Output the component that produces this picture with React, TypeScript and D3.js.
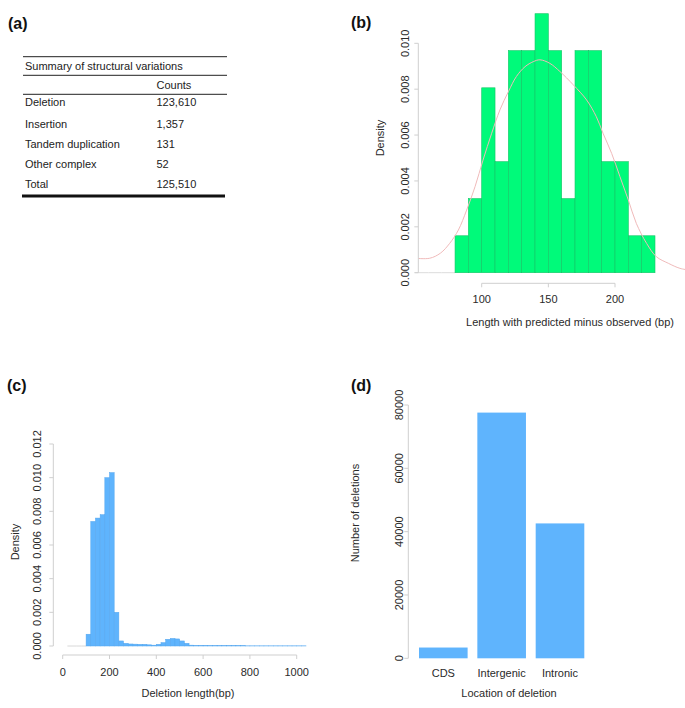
import React from "react";
import * as d3 from "d3";

// ---------- Data ----------
const tableHeader = "Summary of structural variations";
const tableColHeader = "Counts";
const svTypes = ["Deletion", "Insertion", "Tandem duplication", "Other complex", "Total"];
const svCounts = ["123,610", "1,357", "131", "52", "125,510"];

// (b) histogram: bin starts (width 10) and densities
const bBinStarts = [80, 90, 100, 110, 120, 130, 140, 150, 160, 170, 180, 190, 200, 210, 220];
const bDensity = [0.00161, 0.00323, 0.00806, 0.00484, 0.00968, 0.00968, 0.01129, 0.00968, 0.00323, 0.00968, 0.00968, 0.00484, 0.00484, 0.00161, 0.00161];
const bEmptyStarts = [50, 60, 70];
const bCurveX = [50, 61, 69, 76, 82.5, 88.7, 95, 101, 107.5, 113.7, 120, 126, 132.5, 138.7, 143.7, 151, 158.7, 168.7, 178.7, 186, 191, 197.5, 203.7, 210, 216, 223.7, 231, 240, 248.7, 255];
const bCurveY = [0.00063, 0.00063, 0.00085, 0.00128, 0.00186, 0.00273, 0.00375, 0.00491, 0.00608, 0.0071, 0.00789, 0.00855, 0.00898, 0.0092, 0.00928, 0.00913, 0.00877, 0.00819, 0.00753, 0.0068, 0.00608, 0.0052, 0.00419, 0.00317, 0.00215, 0.00128, 0.0007, 0.00041, 0.00019, 0.00012];
const bTicksX = [100, 150, 200];
const bTicksY = [0, 0.002, 0.004, 0.006, 0.008, 0.01];

// (c) histogram: bins width 20 starting at 20
const cBinStarts = [20, 40, 60, 80, 100, 120, 140, 160, 180, 200, 220, 240, 260, 280, 300, 320, 340, 360, 380, 400, 420, 440, 460, 480, 500, 520, 540, 560, 580, 600, 620, 640, 660, 680, 700, 720, 740, 760, 780, 800, 820, 840, 860, 880, 900, 920, 940, 960, 980, 1000, 1020];
const cDensity = [0, 0, 0, 0, 0.0007, 0.0074, 0.0076, 0.0078, 0.01, 0.0103, 0.002, 0.0003, 0.00016, 0.00012, 0.00011, 0.0001, 0.0001, 0.00007, 0.00005, 0.0001, 0.0002, 0.0004, 0.00045, 0.00042, 0.0003, 0.00016, 0.00005, 0.00003, 0.00003, 0.00003, 0.00002, 0.00002, 0.00002, 0.00002, 0.00002, 0.00002, 0.00002, 0.00002, 0.00001, 0.00001, 0.00001, 0.00001, 0.00001, 0.00001, 0.00001, 0.00001, 0.00001, 0.00001, 0.00001, 0.00001, 0.00001];
const cTicksX = [0, 200, 400, 600, 800, 1000];
const cTicksY = [0, 0.002, 0.004, 0.006, 0.008, 0.01, 0.012];

// (d) bar chart
const dCategories = ["CDS", "Intergenic", "Intronic"];
const dCounts = [3400, 77600, 42600];
const dTicksY = [0, 20000, 40000, 60000, 80000];

const FONT = "'Liberation Sans', Arial, Helvetica, sans-serif";
const AXIS = "#cfcfcf";
const TXT = "#2a2a2a";
const BLUE = "#5FB4FD";
const BLUE_EDGE = "#55A6EE";
const GREEN = "#00FA7A";
const GREEN_EDGE = "#14C566";

function YAxis({ x, scale, ticks, fmt, labelX }: any) {
  const y0 = scale(ticks[0]);
  const y1 = scale(ticks[ticks.length - 1]);
  return (
    <g>
      <line x1={x} x2={x} y1={y0} y2={y1} stroke={AXIS} strokeWidth={1} />
      {ticks.map((t: number) => (
        <g key={t}>
          <line x1={x - 4} x2={x} y1={scale(t)} y2={scale(t)} stroke={AXIS} strokeWidth={1} />
          <text
            x={labelX}
            y={scale(t)}
            transform={`rotate(-90, ${labelX}, ${scale(t)})`}
            textAnchor="middle"
            dominantBaseline="central"
            fontSize={11}
            fill={TXT}
          >
            {fmt(t)}
          </text>
        </g>
      ))}
    </g>
  );
}

function XAxis({ y, scale, ticks, fmt, labelY }: any) {
  const x0 = scale(ticks[0]);
  const x1 = scale(ticks[ticks.length - 1]);
  return (
    <g>
      <line x1={x0} x2={x1} y1={y} y2={y} stroke={AXIS} strokeWidth={1} />
      {ticks.map((t: number) => (
        <g key={t}>
          <line x1={scale(t)} x2={scale(t)} y1={y} y2={y + 4} stroke={AXIS} strokeWidth={1} />
          <text x={scale(t)} y={labelY} textAnchor="middle" dominantBaseline="central" fontSize={11} fill={TXT}>
            {fmt(t)}
          </text>
        </g>
      ))}
    </g>
  );
}

function PanelA() {
  const left = 22;
  const right = 226;
  const textX = 25;
  const countX = 156.5;
  const rowY = [102.3, 124, 144.3, 164.3, 184.3];
  return (
    <g>
      <text x={8} y={23} fontSize={16} fontWeight="bold" dominantBaseline="central" fill="#111">(a)</text>
      <line x1={left + 1} x2={right + 1} y1={56.7} y2={56.7} stroke="#222" strokeWidth={1} />
      <text x={textX} y={66} fontSize={11} dominantBaseline="central" fill="#222">{tableHeader}</text>
      <line x1={left + 1} x2={right + 1} y1={75.3} y2={75.3} stroke="#222" strokeWidth={1} />
      <text x={countX} y={84.7} fontSize={11} dominantBaseline="central" fill="#222">{tableColHeader}</text>
      <line x1={left + 1} x2={right + 1} y1={94.3} y2={94.3} stroke="#222" strokeWidth={1} />
      {svTypes.map((s, i) => (
        <g key={s}>
          <text x={textX} y={rowY[i]} fontSize={11} dominantBaseline="central" fill="#222">{s}</text>
          <text x={countX} y={rowY[i]} fontSize={11} dominantBaseline="central" fill="#222">{svCounts[i]}</text>
        </g>
      ))}
      <line x1={left} x2={right - 1} y1={196} y2={196} stroke="#111" strokeWidth={3} />
    </g>
  );
}

function PanelB() {
  const x = d3.scaleLinear().domain([100, 200]).range([481.7, 615]);
  const y = d3.scaleLinear().domain([0, 0.01]).range([272.7, 43.3]);
  const pts = bCurveX.map((v, i) => [x(v), y(bCurveY[i])] as [number, number]);
  const line = d3.line().curve(d3.curveCatmullRom.alpha(0.5))(pts) || "";
  const fmt = d3.format(".3f");
  return (
    <g>
      <defs>
        <clipPath id="clipB">
          <rect x={418.3} y={0} width={270} height={290} />
        </clipPath>
      </defs>
      <text x={351} y={22} fontSize={16} fontWeight="bold" dominantBaseline="central" fill="#111">(b)</text>
      {bEmptyStarts.map((s) => (
        <line key={s} x1={x(s)} x2={x(s + 10)} y1={y(0)} y2={y(0)} stroke="#dcdcdc" strokeWidth={1} />
      ))}
      {bBinStarts.map((s, i) => (
        <rect
          key={s}
          x={x(s)}
          y={y(bDensity[i])}
          width={x(s + 10) - x(s)}
          height={y(0) - y(bDensity[i])}
          fill={GREEN}
          stroke={GREEN_EDGE}
          strokeWidth={0.6}
        />
      ))}
      <path d={line} fill="none" stroke="#F0BABA" strokeWidth={1} clipPath="url(#clipB)" />
      <YAxis x={418.3} scale={y} ticks={bTicksY} fmt={fmt} labelX={405} />
      <XAxis y={283.3} scale={x} ticks={bTicksX} fmt={(t: number) => String(t)} labelY={299} />
      <text x={380} y={138} transform="rotate(-90, 380, 138)" textAnchor="middle" dominantBaseline="central" fontSize={11} fill={TXT}>Density</text>
      <text x={570} y={322} textAnchor="middle" dominantBaseline="central" fontSize={11} fill={TXT}>Length with predicted minus observed (bp)</text>
    </g>
  );
}

function PanelC() {
  const x = d3.scaleLinear().domain([0, 1000]).range([62.7, 296.7]);
  const y = d3.scaleLinear().domain([0, 0.012]).range([646, 444]);
  const fmt = d3.format(".3f");
  return (
    <g>
      <text x={7} y={385} fontSize={16} fontWeight="bold" dominantBaseline="central" fill="#111">(c)</text>
      {cBinStarts.map((s, i) =>
        cDensity[i] === 0 ? (
          <line key={s} x1={x(s)} x2={x(s + 20)} y1={y(0)} y2={y(0)} stroke="#d8d8d8" strokeWidth={1} />
        ) : (
          <rect
            key={s}
            x={x(s)}
            y={y(cDensity[i])}
            width={x(s + 20) - x(s)}
            height={y(0) - y(cDensity[i])}
            fill={BLUE}
            stroke={BLUE_EDGE}
            strokeWidth={0.5}
          />
        )
      )}
      <YAxis x={53.3} scale={y} ticks={cTicksY} fmt={fmt} labelX={36.7} />
      <XAxis y={655} scale={x} ticks={cTicksX} fmt={(t: number) => String(t)} labelY={672} />
      <text x={15} y={542} transform="rotate(-90, 15, 542)" textAnchor="middle" dominantBaseline="central" fontSize={11} fill={TXT}>Density</text>
      <text x={188} y={693} textAnchor="middle" dominantBaseline="central" fontSize={11} fill={TXT}>Deletion length(bp)</text>
    </g>
  );
}

function PanelD() {
  const x = d3.scaleBand().domain(dCategories).range([419, 584.3]).paddingInner(0.2 / 1.2).paddingOuter(0);
  const y = d3.scaleLinear().domain([0, 80000]).range([658.3, 405]);
  return (
    <g>
      <text x={351} y={385} fontSize={16} fontWeight="bold" dominantBaseline="central" fill="#111">(d)</text>
      {dCategories.map((c, i) => (
        <rect
          key={c}
          x={x(c)}
          y={y(dCounts[i])}
          width={x.bandwidth()}
          height={y(0) - y(dCounts[i])}
          fill={BLUE}
        />
      ))}
      <YAxis x={408.3} scale={y} ticks={dTicksY} fmt={(t: number) => String(t)} labelX={399} />
      {dCategories.map((c) => (
        <text key={c} x={(x(c) as number) + x.bandwidth() / 2} y={673.3} textAnchor="middle" dominantBaseline="central" fontSize={11} fill={TXT}>
          {c}
        </text>
      ))}
      <text x={355} y={513} transform="rotate(-90, 355, 513)" textAnchor="middle" dominantBaseline="central" fontSize={11} fill={TXT}>Number of deletions</text>
      <text x={509} y={693} textAnchor="middle" dominantBaseline="central" fontSize={11} fill={TXT}>Location of deletion</text>
    </g>
  );
}

export default function App() {
  return (
    <svg
      width={685}
      height={708}
      style={{ position: "absolute", left: 0, top: 0, background: "#fff" }}
      fontFamily={FONT}
    >
      <rect x={0} y={0} width={685} height={708} fill="#fff" />
      <PanelA />
      <PanelB />
      <PanelC />
      <PanelD />
    </svg>
  );
}
